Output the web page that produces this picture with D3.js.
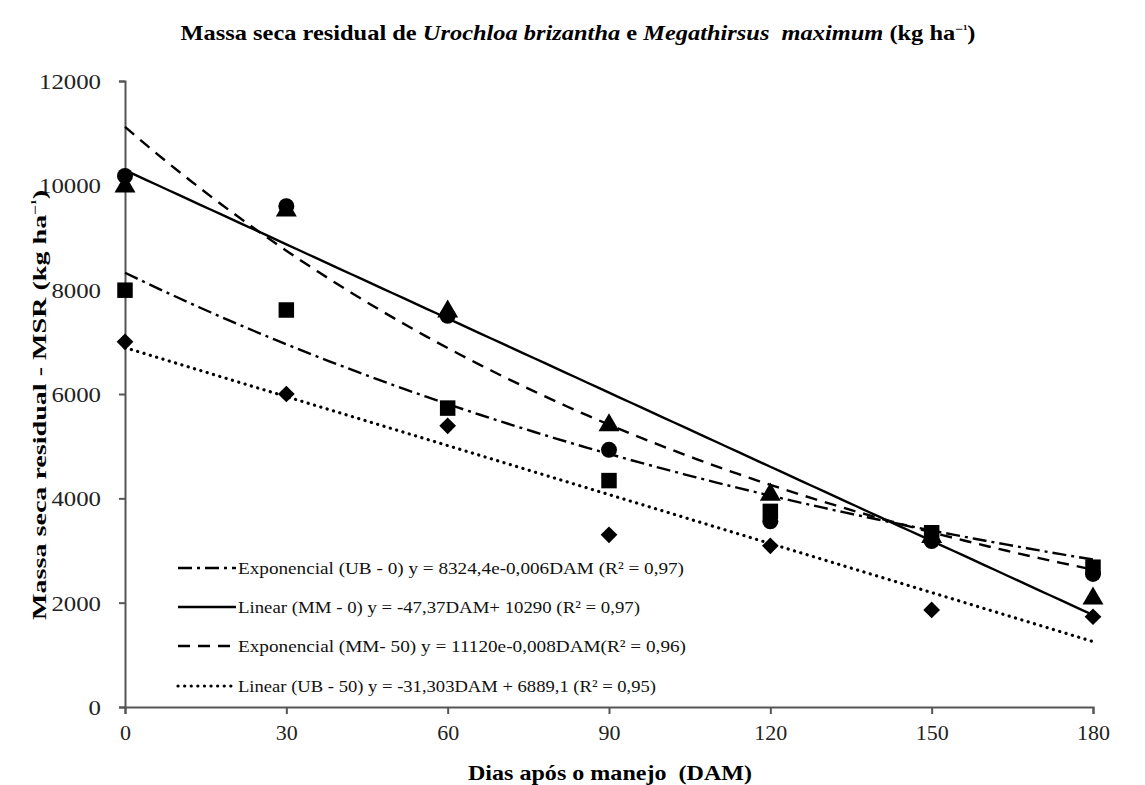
<!DOCTYPE html>
<html><head><meta charset="utf-8">
<script src="https://cdn.jsdelivr.net/npm/d3@7"></script>
<style>
html,body{margin:0;padding:0;background:#fff;}
svg{display:block;font-family:"Liberation Serif","Times New Roman",serif;}
text{white-space:pre;}
</style></head>
<body><svg id="chart" width="1145" height="785"></svg>
<script>
// ---- data ----
const dam = [0, 30, 60, 90, 120, 150, 180];
const circleVals   = [10180, 9600, 7500, 4930, 3560, 3180, 2550];
const triangleVals = [9980, 9520, 7580, 5400, 4070, 3260, 2080];
const squareVals   = [7990, 7610, 5730, 4340, 3750, 3340, 2680];
const diamondVals  = [7000, 6000, 5390, 3300, 3090, 1860, 1730];
const yTicks = [0, 2000, 4000, 6000, 8000, 10000, 12000];
const xTicks = [0, 30, 60, 90, 120, 150, 180];
// trendlines (coefficients from legend equations)
const trendNames = [
  "Exponencial (UB - 0) y = 8324,4e-0,006DAM (R² = 0,97)",
  "Linear (MM - 0) y = -47,37DAM+ 10290 (R² = 0,97)",
  "Exponencial (MM- 50) y = 11120e-0,008DAM(R² = 0,96)",
  "Linear (UB - 50) y = -31,303DAM + 6889,1 (R² = 0,95)"
];
const trendType = ["exp", "lin", "exp", "lin"];
const trendA = [8324.4, 10290, 11120, 6889.1];
const trendB = [-0.006, -47.37, -0.008, -31.303];
const trendDash = ["14,5,3,5", null, "12,8", "0.1,6.5"];

const svg = d3.select("#chart");
const x = d3.scaleLinear().domain([0, 180]).range([125, 1093]);
const y = d3.scaleLinear().domain([0, 12000]).range([707, 81]);

// title
const title = svg.append("text").attr("x", 578).attr("y", 40).attr("text-anchor", "middle")
  .attr("font-weight", "bold").attr("font-size", 21)
  .attr("textLength", 795).attr("lengthAdjust", "spacingAndGlyphs");
title.append("tspan").text("Massa seca residual de ");
title.append("tspan").attr("font-style", "italic").text("Urochloa brizantha");
title.append("tspan").text(" e ");
title.append("tspan").attr("font-style", "italic").text("Megathirsus  maximum");
title.append("tspan").text(" (kg ha");
title.append("tspan").attr("font-size", 12).attr("dy", -7).text("−¹");
title.append("tspan").attr("dy", 7).text(")");

// axes
const axisColor = "#555";
const gy = svg.append("g").attr("transform", "translate(125,0)")
  .call(d3.axisLeft(y).tickValues(yTicks).tickFormat(d3.format("d")).tickSize(6).tickPadding(18));
const gx = svg.append("g").attr("transform", "translate(0,707)")
  .call(d3.axisBottom(x).tickValues(xTicks).tickSize(7).tickPadding(10));
[gy, gx].forEach(g => {
  g.select(".domain").attr("stroke", axisColor).attr("stroke-width", 2);
  g.selectAll(".tick line").attr("stroke", axisColor).attr("stroke-width", 2);
  g.selectAll(".tick text").attr("fill", "#222").attr("font-family", "Liberation Serif, serif");
});
gy.selectAll(".tick text").attr("font-size", 21).attr("dy", "0.35em")
  .attr("textLength", d => String(d).length * 12.4).attr("lengthAdjust", "spacingAndGlyphs");
gx.selectAll(".tick text").attr("font-size", 22);

// axis titles
const yt = svg.append("text").attr("transform", "translate(46,405) rotate(-90)")
  .attr("text-anchor", "middle").attr("font-weight", "bold").attr("font-size", 19)
  .attr("textLength", 430).attr("lengthAdjust", "spacingAndGlyphs");
yt.append("tspan").text("Massa seca residual - MSR (kg ha");
yt.append("tspan").attr("font-size", 12).attr("dy", -7).text("−¹");
yt.append("tspan").attr("dy", 7).text(")");
svg.append("text").attr("x", 610).attr("y", 780).attr("text-anchor", "middle")
  .attr("font-weight", "bold").attr("font-size", 22)
  .attr("textLength", 284).attr("lengthAdjust", "spacingAndGlyphs")
  .text("Dias após o manejo  (DAM)");

// trendlines
const xs = d3.range(0, 180.01, 2);
const line = d3.line().x(d => x(d[0])).y(d => y(d[1]));
trendType.forEach((t, i) => {
  const pts = xs.map(v => [v, t === "exp" ? trendA[i] * Math.exp(trendB[i] * v) : trendA[i] + trendB[i] * v]);
  const p = svg.append("path").attr("d", line(pts)).attr("fill", "none")
    .attr("stroke", "#000").attr("stroke-width", i === 3 ? 3.2 : 2.4);
  if (trendDash[i]) p.attr("stroke-dasharray", trendDash[i]);
  if (i === 3) p.attr("stroke-linecap", "round");
});

// markers
const series = [
  {vals: circleVals, sym: d3.symbolCircle, size: 200, rot: 0},
  {vals: triangleVals, sym: d3.symbolTriangle, size: 190, rot: 0},
  {vals: squareVals, sym: d3.symbolSquare, size: 240, rot: 0},
  {vals: diamondVals, sym: d3.symbolSquare, size: 140, rot: 45}
];
series.forEach(s => {
  svg.append("g").selectAll("path").data(s.vals).join("path")
    .attr("d", d3.symbol().type(s.sym).size(s.size))
    .attr("transform", (d, i) => `translate(${x(dam[i])},${y(d)}) rotate(${s.rot})`)
    .attr("fill", "#000");
});

// legend
const lg = svg.append("g");
const rowY = [568, 607, 646, 686];
const txtLen = [446, 402, 448, 418];
trendNames.forEach((n, i) => {
  const l = lg.append("line").attr("x1", 178).attr("x2", 236).attr("y1", rowY[i]).attr("y2", rowY[i])
    .attr("stroke", "#000").attr("stroke-width", i === 3 ? 3.2 : 2.4);
  if (trendDash[i]) l.attr("stroke-dasharray", trendDash[i]);
  if (i === 3) l.attr("stroke-linecap", "round");
  lg.append("text").attr("x", 238).attr("y", rowY[i] + 6).attr("font-size", 17.5).attr("fill", "#111")
    .attr("textLength", txtLen[i]).attr("lengthAdjust", "spacingAndGlyphs").text(n);
});
</script></body></html>
